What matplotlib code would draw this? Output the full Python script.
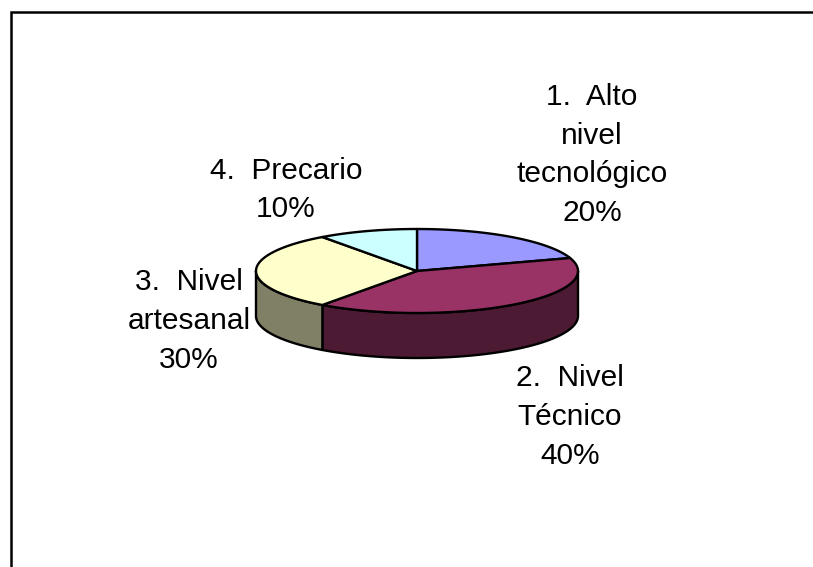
import numpy as np
import matplotlib
matplotlib.use('Agg')
import matplotlib.pyplot as plt
from matplotlib.patches import Polygon

plt.rcParams['font.family'] = ['Liberation Sans', 'DejaVu Sans']

# datos
valores = [20, 40, 30, 10]
etiquetas = ['1.  Alto\nnivel\ntecnológico\n20%', '2.  Nivel\nTécnico\n40%',
             '3.  Nivel\nartesanal\n30%', '4.  Precario\n10%']
colores_top = ['#9999ff', '#993366', '#ffffcc', '#ccffff']
colores_lado = ['#6b6bb3', '#4d1a33', '#808066', '#668080']
pos_etiquetas = [(592, 155), (570, 417), (189, 321), (286, 190)]

ancho, alto = 813, 567
cx, cy = 417, 271
rx, ry = 161, 42
grosor = 45

fig = plt.figure(figsize=(ancho / 100, alto / 100), dpi=100)
ax = fig.add_axes([0, 0, 1, 1])
ax.set_xlim(0, ancho)
ax.set_ylim(alto, 0)
ax.axis('off')

# marco
ax.plot([10.5, 10.5, ancho], [alto, 11.5, 11.5], color='black', lw=1.8, solid_capstyle='butt', solid_joinstyle='miter')


def punto(t):
    return cx + rx * np.sin(t), cy - ry * np.cos(t)


acum = np.cumsum([0] + valores) / sum(valores) * 2 * np.pi

# paredes laterales (solo la parte frontal)
for i in range(len(valores)):
    a = max(acum[i], np.pi / 2)
    b = min(acum[i + 1], 3 * np.pi / 2)
    if b <= a:
        continue
    t = np.linspace(a, b, 80)
    x, y = punto(t)
    pts = np.column_stack([np.r_[x, x[::-1]], np.r_[y, y[::-1] + grosor]])
    ax.add_patch(Polygon(pts, closed=True, fc=colores_lado[i], ec='black', lw=1.7, joinstyle='round'))

# tapa
for i in range(len(valores)):
    t = np.linspace(acum[i], acum[i + 1], 80)
    x, y = punto(t)
    pts = np.column_stack([np.r_[cx, x], np.r_[cy, y]])
    ax.add_patch(Polygon(pts, closed=True, fc=colores_top[i], ec='black', lw=1.7, joinstyle='round'))

for txt, (x, y) in zip(etiquetas, pos_etiquetas):
    ax.text(x, y, txt, ha='center', va='center', fontsize=21.5, color='black', linespacing=1.49)

fig.savefig('out.png', dpi=100)
